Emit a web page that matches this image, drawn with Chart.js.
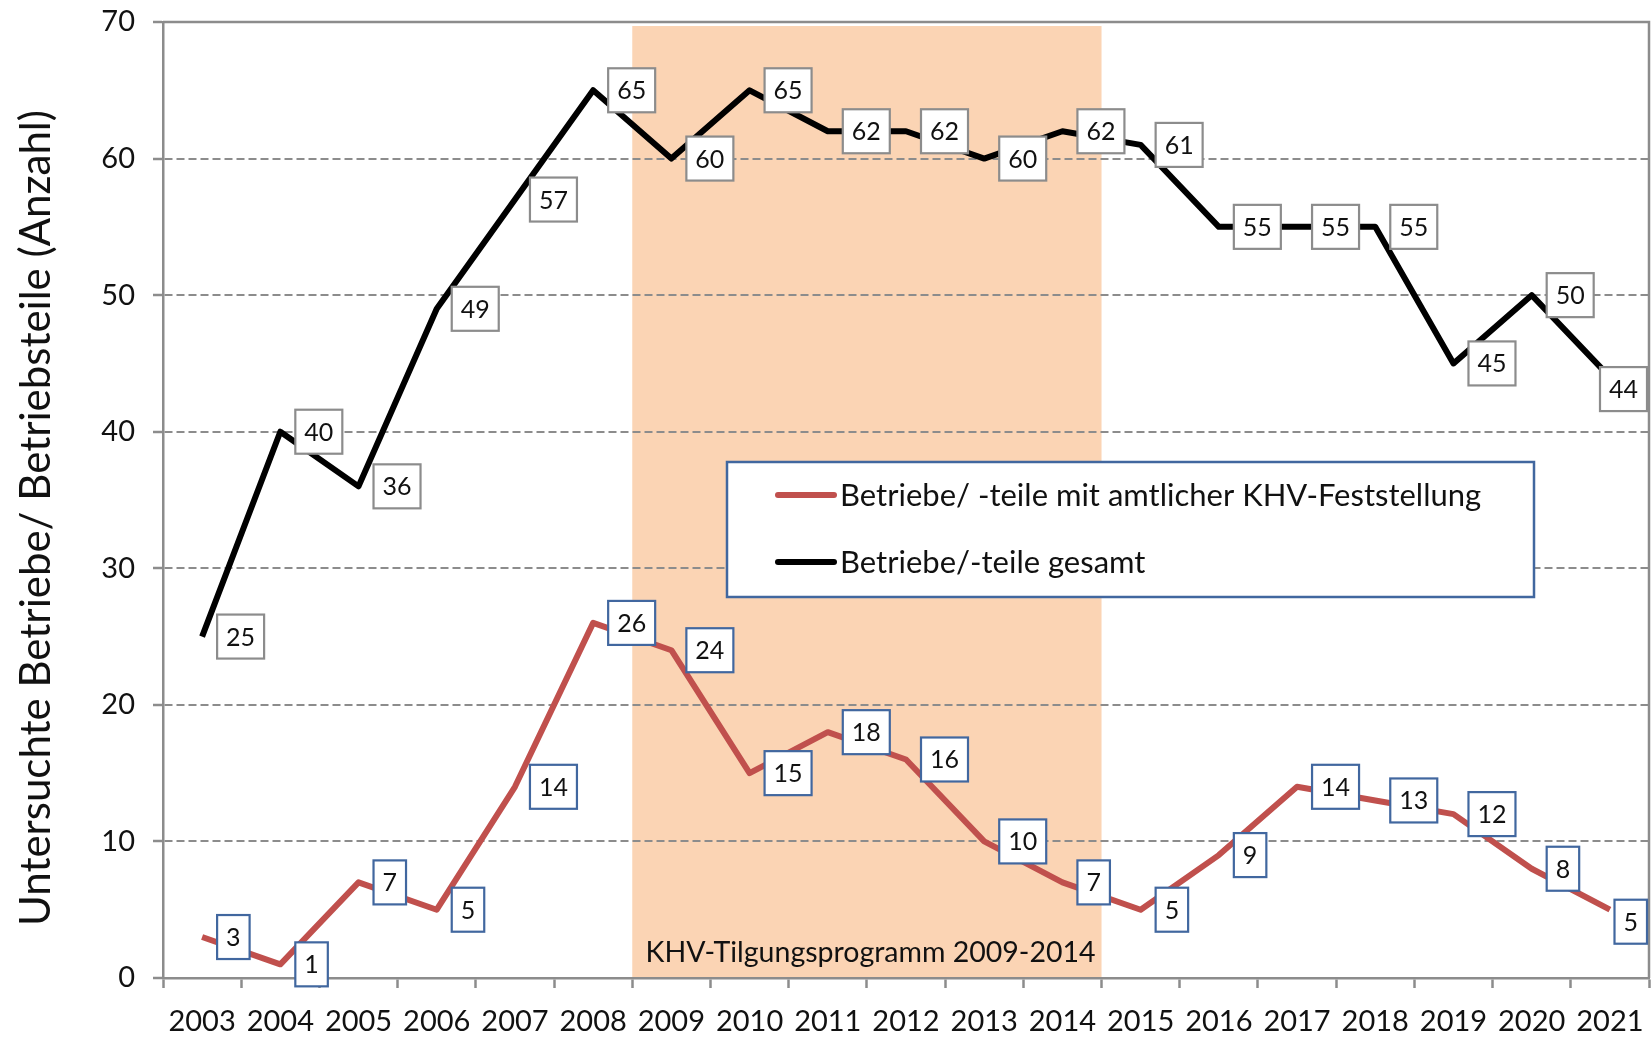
<!DOCTYPE html>
<html>
<head>
<meta charset="utf-8">
<script src="https://cdn.jsdelivr.net/npm/chart.js@4.4.0/dist/chart.umd.min.js"></script>
<style>
html, body { margin: 0; padding: 0; background: #fff; }
#wrap { width: 1651px; height: 1038px; }
</style>
</head>
<body>
<div id="wrap"><canvas id="chart"></canvas></div>
<script>
const years = ['2003','2004','2005','2006','2007','2008','2009','2010','2011','2012',
               '2013','2014','2015','2016','2017','2018','2019','2020','2021'];
const gesamt = [25, 40, 36, 49, 57, 65, 60, 65, 62, 62, 60, 62, 61, 55, 55, 55, 45, 50, 44];
const khv = [3, 1, 7, 5, 14, 26, 24, 15, 18, 16, 10, 7, 5, 9, 14, 13, 12, 8, 5];
const programYears = ['2009', '2014'];
const programLabel = 'KHV-Tilgungsprogramm 2009-2014';
const yTitle = 'Untersuchte Betriebe/ Betriebsteile (Anzahl)';

const GRAY = '#8c8c8c';
const TEXT = '#111111';
const FONT = 'Lato';

// orange band for the eradication programme, behind the grid
const programBand = {
  id: 'programBand',
  beforeDraw(chart) {
    const {ctx, chartArea, scales: {x}} = chart;
    const half = (x.getPixelForValue(1) - x.getPixelForValue(0)) / 2;
    const left = x.getPixelForValue(years.indexOf(programYears[0])) - half;
    const right = x.getPixelForValue(years.indexOf(programYears[1])) + half;
    ctx.save();
    ctx.fillStyle = '#fbd4b4';
    ctx.fillRect(left, chartArea.top + 4, right - left, chartArea.bottom - chartArea.top - 4);
    ctx.fillStyle = TEXT;
    ctx.font = '28.5px ' + FONT;
    ctx.textAlign = 'right';
    ctx.textBaseline = 'alphabetic';
    ctx.fillText(programLabel, right - 6, chartArea.bottom - 16);
    ctx.restore();
  }
};

// solid top and right edge of the plot area, plus the rotated y title
const frame = {
  id: 'frame',
  beforeDatasetsDraw(chart) {
    const {ctx, chartArea: a} = chart;
    ctx.save();
    ctx.strokeStyle = GRAY;
    ctx.lineWidth = 2.5;
    ctx.beginPath();
    ctx.moveTo(a.left, a.top);
    ctx.lineTo(a.right, a.top);
    ctx.lineTo(a.right, a.bottom);
    ctx.stroke();
    ctx.translate(50, (a.top + a.bottom) / 2 + 18);
    ctx.rotate(-Math.PI / 2);
    ctx.font = '42px ' + FONT;
    ctx.fillStyle = TEXT;
    ctx.textAlign = 'center';
    ctx.textBaseline = 'alphabetic';
    ctx.fillText(yTitle, 0, 0);
    ctx.restore();
  }
};

// boxed value labels to the right of each point
const valueLabels = {
  id: 'valueLabels',
  afterDatasetsDraw(chart) {
    const {ctx, chartArea} = chart;
    ctx.save();
    ctx.font = '25px ' + FONT;
    ctx.textAlign = 'center';
    ctx.textBaseline = 'alphabetic';
    chart.data.datasets.forEach((ds, i) => {
      const meta = chart.getDatasetMeta(i);
      meta.data.forEach((pt, j) => {
        const txt = String(ds.data[j]);
        const w = ctx.measureText(txt).width + 18;
        const h = 44;
        let left = pt.x + 15;
        let cy = pt.y;
        if (left + w > chartArea.right - 2) {
          left = chartArea.right - 2 - w;
          cy += 12;
        }
        ctx.fillStyle = '#fff';
        ctx.fillRect(left, cy - h / 2, w, h);
        ctx.strokeStyle = ds.labelBorder;
        ctx.lineWidth = 2.2;
        ctx.strokeRect(left, cy - h / 2, w, h);
        ctx.fillStyle = TEXT;
        ctx.fillText(txt, left + w / 2, cy + 9);
      });
    });
    ctx.restore();
  }
};

// legend box inside the plot
const boxLegend = {
  id: 'boxLegend',
  afterDraw(chart) {
    const {ctx} = chart;
    const left = 727, top = 462, w = 807, h = 135;
    ctx.save();
    ctx.fillStyle = '#fff';
    ctx.fillRect(left, top, w, h);
    ctx.strokeStyle = '#41679f';
    ctx.lineWidth = 2.5;
    ctx.strokeRect(left, top, w, h);
    ctx.font = '31px ' + FONT;
    ctx.textBaseline = 'alphabetic';
    ctx.textAlign = 'left';
    chart.data.datasets.forEach((ds, i) => {
      const y = top + 33 + i * 67;
      ctx.strokeStyle = ds.borderColor;
      ctx.lineWidth = 6;
      ctx.lineCap = 'round';
      ctx.beginPath();
      ctx.moveTo(left + 51, y);
      ctx.lineTo(left + 107, y);
      ctx.stroke();
      ctx.fillStyle = TEXT;
      ctx.fillText(ds.label, left + 113, y + 11);
    });
    ctx.restore();
  }
};

new Chart(document.getElementById('chart'), {
  type: 'line',
  data: {
    labels: years,
    datasets: [{
      label: 'Betriebe/ -teile mit amtlicher KHV-Feststellung',
      data: khv,
      borderColor: '#c0504d',
      labelBorder: '#41679f',
      borderWidth: 6,
      pointRadius: 0,
      tension: 0,
      borderJoinStyle: 'round'
    }, {
      label: 'Betriebe/-teile gesamt',
      data: gesamt,
      borderColor: '#000000',
      labelBorder: GRAY,
      borderWidth: 6,
      pointRadius: 0,
      tension: 0,
      borderJoinStyle: 'round'
    }]
  },
  options: {
    responsive: true,
    maintainAspectRatio: false,
    animation: false,
    devicePixelRatio: 1,
    layout: { padding: { top: 22, right: 2, left: 0, bottom: 0 } },
    plugins: {
      legend: { display: false },
      tooltip: { enabled: false }
    },
    scales: {
      x: {
        type: 'category',
        offset: true,
        grid: {
          offset: true,
          drawOnChartArea: false,
          drawTicks: true,
          tickLength: 10,
          tickColor: GRAY,
          tickWidth: 2.5
        },
        border: { color: GRAY, width: 2.5 },
        ticks: {
          font: { family: FONT, size: 29 },
          color: TEXT,
          maxRotation: 0,
          autoSkip: false,
          padding: 16
        },
        afterFit(scale) {
          scale.height = 60;
          scale.paddingLeft = 0;
          scale.paddingRight = 0;
        }
      },
      y: {
        min: 0,
        max: 70,
        ticks: {
          stepSize: 10,
          font: { family: FONT, size: 29 },
          color: TEXT,
          padding: 18
        },
        grid: {
          color: GRAY,
          lineWidth: 2,
          drawTicks: true,
          tickLength: 10,
          tickColor: GRAY,
          tickWidth: 2.5
        },
        border: { color: GRAY, width: 2.5, dash: [8, 4] },
        afterFit(scale) {
          scale.width = 163;
          scale.paddingTop = 0;
          scale.paddingBottom = 0;
        }
      }
    }
  },
  plugins: [programBand, frame, valueLabels, boxLegend]
});
</script>
</body>
</html>
